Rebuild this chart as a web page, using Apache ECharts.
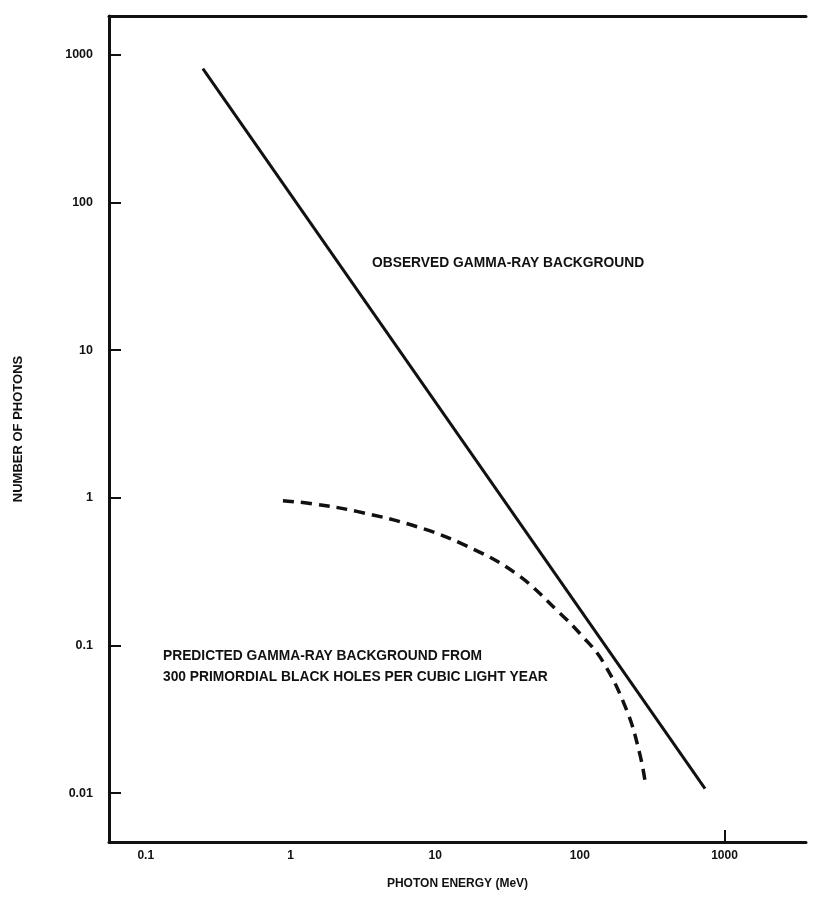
<!DOCTYPE html>
<html>
<head>
<meta charset="utf-8">
<script src="https://cdn.jsdelivr.net/npm/echarts@6/dist/echarts.min.js"></script>
<style>
html,body{margin:0;padding:0;background:#fff;}
#chart{width:814px;height:899px;}
</style>
</head>
<body>
<div id="chart"></div>
<script>
// Observed gamma-ray background (straight power law on log-log axes)
const observedEnergy = [0.248, 733];
const observedPhotons = [807, 0.0107];

// Predicted background from primordial black holes (dashed curve)
const predictedEnergy = [0.887, 1.44, 2.88, 7.5, 16.6, 36.7, 72.5, 102, 144, 211, 260, 286];
const predictedPhotons = [0.955, 0.91, 0.809, 0.637, 0.471, 0.304, 0.166, 0.118, 0.078, 0.0363, 0.0183, 0.0111];

const xTickValues = [0.1, 1, 10, 100, 1000];
const xTickLabels = ['0.1', '1', '10', '100', '1000'];
const xTickMarks = [1000];
const yTickValues = [1000, 100, 10, 1, 0.1, 0.01];
const yTickLabels = ['1000', '100', '10', '1', '0.1', '0.01'];

const xRange = [0.0557, 3656];
const yRange = [0.00466, 1837];

const observedLabel = 'OBSERVED GAMMA-RAY BACKGROUND';
const predictedLabel = ['PREDICTED GAMMA-RAY BACKGROUND FROM', '300 PRIMORDIAL BLACK HOLES PER CUBIC LIGHT YEAR'];
const xTitle = 'PHOTON ENERGY (MeV)';
const yTitle = 'NUMBER OF PHOTONS';

function labelFor(values, labels) {
  return function (v) {
    let best = 0, bd = Infinity;
    for (let i = 0; i < values.length; i++) {
      const d = Math.abs(Math.log10(v) - Math.log10(values[i]));
      if (d < bd) { bd = d; best = i; }
    }
    return bd < 0.05 ? labels[best] : '';
  };
}

const font = 'Liberation Sans, Arial, sans-serif';
const chart = echarts.init(document.getElementById('chart'), null, {renderer: 'canvas'});
chart.setOption({
  animation: false,
  backgroundColor: '#ffffff',
  grid: {left: 109, right: 8, top: 16, bottom: 57, containLabel: false},
  xAxis: [{
    type: 'log', logBase: 10, min: xRange[0], max: xRange[1],
    name: xTitle, nameLocation: 'middle', nameGap: 36,
    nameTextStyle: {fontFamily: font, fontSize: 12, fontWeight: 'bold', color: '#111'},
    axisLine: {show: true, lineStyle: {color: '#111', width: 3}},
    axisTick: {show: true, inside: true, length: 12, lineStyle: {color: '#111', width: 2}, customValues: xTickMarks},
    axisLabel: {show: true, margin: 8, fontFamily: font, fontSize: 12, fontWeight: 'bold', color: '#111',
      customValues: xTickValues, formatter: labelFor(xTickValues, xTickLabels)},
    splitLine: {show: false}, minorTick: {show: false}
  }, {
    type: 'log', logBase: 10, min: xRange[0], max: xRange[1], position: 'top',
    axisLine: {show: true, lineStyle: {color: '#111', width: 3}},
    axisTick: {show: false}, axisLabel: {show: false}, splitLine: {show: false}
  }],
  yAxis: {
    type: 'log', logBase: 10, min: yRange[0], max: yRange[1],
    name: yTitle, nameLocation: 'middle', nameGap: 84,
    nameTextStyle: {fontFamily: font, fontSize: 13, fontWeight: 'bold', color: '#111'},
    axisLine: {show: true, lineStyle: {color: '#111', width: 3}},
    axisTick: {show: true, inside: true, length: 12, lineStyle: {color: '#111', width: 2}, customValues: yTickValues},
    axisLabel: {show: true, margin: 16, fontFamily: font, fontSize: 12.5, fontWeight: 'bold', color: '#111',
      customValues: yTickValues, formatter: labelFor(yTickValues, yTickLabels)},
    splitLine: {show: false}, minorTick: {show: false}
  },
  series: [{
    name: 'observed', type: 'line', xAxisIndex: 0,
    data: observedEnergy.map((e, i) => [e, observedPhotons[i]]),
    symbol: 'none', lineStyle: {color: '#111', width: 3}
  }, {
    name: 'predicted', type: 'line', xAxisIndex: 0, smooth: 0.4,
    data: predictedEnergy.map((e, i) => [e, predictedPhotons[i]]),
    symbol: 'none', lineStyle: {color: '#111', width: 3.5, type: [11, 7]}
  }],
  graphic: [{
    type: 'text', left: 372, top: 256,
    style: {text: observedLabel, font: 'bold 13.8px ' + font, fill: '#111'}
  }, {
    type: 'text', left: 163, top: 646,
    style: {text: predictedLabel.join('\n'), font: 'bold 13.8px ' + font, fill: '#111', lineHeight: 21}
  }]
});
</script>
</body>
</html>
